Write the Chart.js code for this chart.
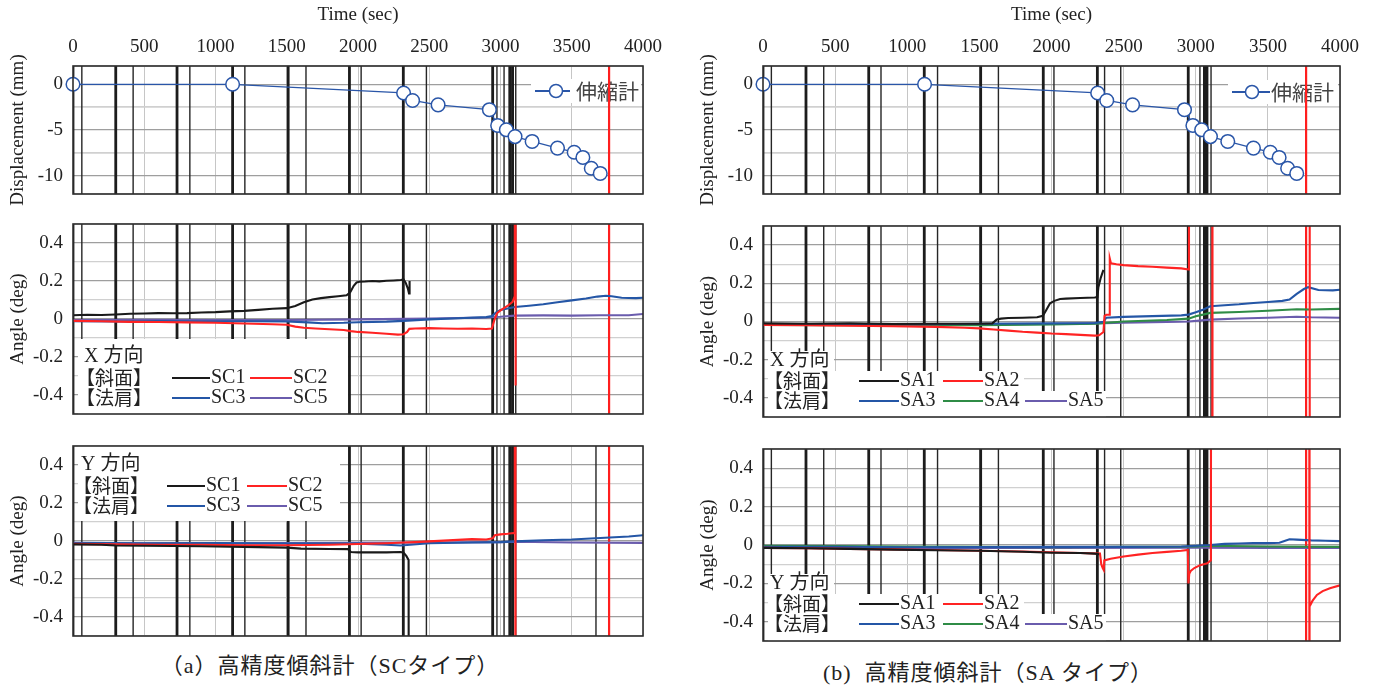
<!DOCTYPE html>
<html><head><meta charset="utf-8">
<script src="https://cdn.jsdelivr.net/npm/chart.js@4"></script>
<style>
html,body{margin:0;padding:0;background:#fff;}
body{width:1376px;height:686px;position:relative;overflow:hidden;}
canvas{position:absolute;}
.cap{position:absolute;font-family:"Liberation Serif","Noto Sans CJK JP",serif;font-size:22px;letter-spacing:1px;color:#222;white-space:nowrap;text-align:center;line-height:26px;}
</style></head><body>
<div class="cap" style="left:130px;top:653px;width:400px;">（a）高精度傾斜計（SCタイプ）</div>
<div class="cap" style="left:788px;top:660px;width:400px;">(b)&nbsp;&nbsp;高精度傾斜計（SA タイプ）</div>
<script>
// ---------------- DATA ----------------
const timeTicks = [0, 500, 1000, 1500, 2000, 2500, 3000, 3500, 4000];
const timeTickLabels = ['0', '500', '1000', '1500', '2000', '2500', '3000', '3500', '4000'];
const dispGrid = [-12, -10, -7.5, -5, -2.5, 0, 2];
const dispTickValues = [0, -5, -10];
const dispTickLabels = ['0', '-5', '-10'];
const angleGrid = [-0.5, -0.4, -0.3, -0.2, -0.1, 0, 0.1, 0.2, 0.3, 0.4, 0.5];
const angleTickValues = [0.4, 0.2, 0, -0.2, -0.4];
const angleTickLabels = ['0.4', '0.2', '0', '-0.2', '-0.4'];

// extensometer (伸縮計)
const tDisp = [0, 1120, 2320, 2383, 2562, 2922, 2980, 3041, 3102, 3222, 3400, 3517, 3578, 3637, 3700];
const dispExt = [0, 0, -0.95, -1.77, -2.25, -2.78, -4.5, -4.98, -5.72, -6.25, -6.98, -7.43, -8.0, -9.18, -9.75];

// event marker lines (sec)
const marksThickA = [0, 300, 730, 1120, 1510, 1940, 2318, 2945, 3065, 3085];
const marksThinA = [62, 422, 820, 1206, 1635, 2022, 2480, 2975, 3025, 3107];
const marksRedA = [3762];
const marksExtraAY = [3670];
const marksThickB = [0, 298, 733, 1118, 1509, 1943, 2318, 2948, 3060, 3078];
const marksThinB = [58, 421, 818, 1210, 1632, 2017, 2368, 2480, 3029, 3106];
const marksRedB = [3765];

// SC type, X direction
const tSC1x = [0, 100, 200, 300, 400, 500, 600, 700, 800, 900, 1000, 1100, 1200, 1300, 1400, 1500, 1560, 1620, 1680, 1740, 1800, 1860, 1920, 1945, 1970, 1990, 2010, 2050, 2100, 2150, 2200, 2250, 2300, 2320, 2335, 2350, 2358, 2362];
const sc1x = [0.020, 0.022, 0.021, 0.024, 0.028, 0.029, 0.031, 0.030, 0.031, 0.034, 0.036, 0.040, 0.043, 0.048, 0.054, 0.057, 0.068, 0.088, 0.103, 0.110, 0.115, 0.120, 0.125, 0.140, 0.175, 0.192, 0.196, 0.197, 0.200, 0.198, 0.201, 0.203, 0.205, 0.208, 0.190, 0.160, 0.135, 0.200];
const tSC2x = [0, 200, 400, 600, 800, 1000, 1200, 1400, 1500, 1560, 1620, 1700, 1800, 1900, 1950, 2000, 2100, 2200, 2280, 2320, 2345, 2360, 2400, 2500, 2600, 2700, 2800, 2900, 2940, 2955, 2975, 3000, 3030, 3060, 3085, 3100, 3104, 3106];
const sc2x = [-0.010, -0.012, -0.015, -0.016, -0.018, -0.020, -0.024, -0.028, -0.030, -0.040, -0.046, -0.050, -0.054, -0.058, -0.064, -0.068, -0.072, -0.078, -0.082, -0.080, -0.068, -0.052, -0.050, -0.048, -0.050, -0.051, -0.050, -0.053, -0.050, -0.010, 0.030, 0.045, 0.060, 0.075, 0.090, 0.120, 5, -0.35];
const tSC3x = [0, 300, 600, 900, 1200, 1500, 1650, 1750, 1900, 2000, 2200, 2320, 2500, 2700, 2900, 2940, 2970, 3000, 3100, 3200, 3300, 3400, 3500, 3600, 3680, 3740, 3780, 3850, 3950, 4000];
const sc3x = [-0.012, -0.013, -0.011, -0.014, -0.012, -0.013, -0.018, -0.022, -0.020, -0.017, -0.014, -0.010, -0.002, 0.004, 0.010, 0.015, 0.035, 0.048, 0.063, 0.070, 0.078, 0.088, 0.098, 0.108, 0.118, 0.122, 0.120, 0.112, 0.110, 0.112];
const tSC5x = [0, 500, 1000, 1500, 2000, 2500, 2900, 3000, 3100, 3300, 3500, 3700, 3900, 4000];
const sc5x = [-0.005, -0.004, -0.006, -0.005, -0.002, 0.002, 0.008, 0.012, 0.018, 0.019, 0.018, 0.020, 0.020, 0.026];

// SC type, Y direction
const tSC1y = [0, 200, 300, 500, 700, 900, 1100, 1300, 1500, 1600, 1800, 1930, 1950, 2000, 2100, 2200, 2300, 2320, 2340, 2355, 2362];
const sc1y = [-0.018, -0.020, -0.024, -0.025, -0.026, -0.028, -0.030, -0.032, -0.035, -0.040, -0.042, -0.043, -0.058, -0.060, -0.059, -0.060, -0.058, -0.062, -0.080, -0.100, -5];
const tSC2y = [0, 300, 600, 900, 1200, 1500, 1800, 2000, 2200, 2320, 2400, 2500, 2600, 2700, 2800, 2900, 2945, 2960, 3000, 3050, 3090, 3100, 3103, 3105];
const sc2y = [-0.015, -0.018, -0.020, -0.020, -0.022, -0.022, -0.020, -0.016, -0.012, -0.008, -0.006, -0.002, 0.002, 0.006, 0.010, 0.008, 0.014, 0.030, 0.035, 0.038, 0.042, 0.040, 5, -5];
const tSC3y = [0, 500, 1000, 1500, 2000, 2200, 2300, 2500, 2800, 3000, 3100, 3300, 3500, 3600, 3700, 3800, 3900, 4000];
const sc3y = [-0.010, -0.012, -0.011, -0.013, -0.014, -0.020, -0.024, -0.012, -0.008, -0.006, -0.002, 0.004, 0.008, 0.012, 0.016, 0.020, 0.024, 0.030];
const tSC5y = [0, 1000, 2000, 2500, 3000, 3100, 3500, 4000];
const sc5y = [-0.012, -0.012, -0.010, -0.008, -0.006, -0.004, -0.008, -0.010];

// SA type, X direction
const tSA1x = [0, 300, 600, 900, 1200, 1500, 1590, 1620, 1650, 1700, 1800, 1900, 1940, 1960, 1990, 2020, 2060, 2100, 2200, 2300, 2318, 2325, 2340, 2360];
const sa1x = [-0.010, -0.012, -0.010, -0.013, -0.012, -0.012, -0.010, 0.010, 0.015, 0.018, 0.020, 0.022, 0.030, 0.055, 0.095, 0.108, 0.118, 0.120, 0.123, 0.126, 0.128, 0.180, 0.225, 0.270];
const tSA2x = [0, 300, 600, 900, 1200, 1400, 1500, 1600, 1700, 1800, 1900, 2000, 2100, 2200, 2300, 2330, 2360, 2368, 2380, 2400, 2404, 2412, 2450, 2500, 2600, 2700, 2800, 2900, 2950, 2953, 3114, 3116, 3788, 3790];
const sa2x = [-0.018, -0.020, -0.022, -0.025, -0.028, -0.033, -0.036, -0.042, -0.048, -0.054, -0.058, -0.063, -0.066, -0.070, -0.074, -0.072, -0.055, 0.030, 0.035, 0.035, 0.330, 0.305, 0.300, 0.295, 0.290, 0.287, 0.282, 0.278, 0.272, 5, 5, -5, -5, 5];
const tSA3x = [0, 500, 1000, 1500, 2000, 2300, 2360, 2380, 2500, 2700, 2900, 2950, 3000, 3050, 3100, 3200, 3300, 3400, 3500, 3600, 3650, 3700, 3750, 3780, 3850, 3950, 4000];
const sa3x = [-0.015, -0.014, -0.016, -0.012, -0.010, -0.008, -0.002, 0.020, 0.024, 0.028, 0.032, 0.036, 0.048, 0.062, 0.080, 0.085, 0.090, 0.097, 0.102, 0.108, 0.115, 0.145, 0.170, 0.180, 0.165, 0.163, 0.166];
const tSA4x = [0, 500, 1000, 1500, 2000, 2300, 2500, 2800, 2950, 3000, 3050, 3100, 3300, 3500, 3700, 3800, 4000];
const sa4x = [-0.018, -0.020, -0.019, -0.020, -0.016, -0.012, 0.000, 0.008, 0.015, 0.028, 0.036, 0.045, 0.050, 0.056, 0.064, 0.063, 0.066];
const tSA5x = [0, 500, 1000, 1500, 2000, 2300, 2500, 2800, 2950, 3100, 3300, 3500, 3700, 3800, 4000];
const sa5x = [-0.015, -0.014, -0.016, -0.015, -0.013, -0.010, -0.006, -0.002, 0.000, 0.010, 0.016, 0.020, 0.025, 0.022, 0.020];

// SA type, Y direction
const tSA1y = [0, 300, 600, 900, 1200, 1500, 1800, 2000, 2200, 2300, 2330];
const sa1y = [-0.015, -0.017, -0.020, -0.024, -0.027, -0.030, -0.035, -0.040, -0.042, -0.045, -0.048];
const tSA2y = [0, 300, 600, 900, 1200, 1500, 1800, 2000, 2200, 2336, 2345, 2355, 2362, 2366, 2410, 2500, 2600, 2700, 2800, 2900, 2945, 2949, 2955, 2965, 2990, 3030, 3080, 3105, 3110, 3786, 3788, 3790, 3810, 3840, 3880, 3930, 4000];
const sa2y = [-0.015, -0.017, -0.020, -0.023, -0.026, -0.030, -0.034, -0.038, -0.042, -0.045, -0.100, -0.120, -0.130, -0.080, -0.072, -0.060, -0.050, -0.042, -0.036, -0.030, -0.026, -0.200, -0.150, -0.135, -0.120, -0.105, -0.095, -0.080, 5, 5, -5, -0.320, -0.290, -0.260, -0.240, -0.225, -0.210];
const tSA3y = [0, 500, 1000, 1500, 2000, 2500, 2900, 3000, 3100, 3200, 3300, 3400, 3500, 3580, 3620, 3650, 3700, 3800, 3900, 4000];
const sa3y = [-0.010, -0.010, -0.012, -0.011, -0.010, -0.010, -0.008, -0.004, 0.000, 0.006, 0.008, 0.010, 0.010, 0.012, 0.022, 0.030, 0.028, 0.024, 0.022, 0.020];
const tSA4y = [0, 500, 1000, 1500, 2000, 2500, 3000, 3100, 3500, 4000];
const sa4y = [-0.004, -0.006, -0.008, -0.010, -0.012, -0.010, -0.008, -0.004, -0.008, -0.010];
const tSA5y = [0, 1000, 2000, 3000, 3500, 4000];
const sa5y = [-0.015, -0.016, -0.015, -0.014, -0.015, -0.016];

// ---------------- STYLE / BUILD ----------------
const SERIF = '"Liberation Serif", "Noto Sans CJK JP", serif';
const CJK = '"Noto Sans CJK JP", "Liberation Serif", sans-serif';
const COL = { k: '#1a1a1a', r: '#ff2323', b: '#2456a6', p: '#6a5cad', g: '#2f8c46', ext: '#2a56a8' };

function xy(ts, vs) { return ts.map((t, i) => ({ x: t, y: vs[i] })); }
function markPts(ts) { const p = []; ts.forEach(t => { p.push({ x: t, y: -50 }); p.push({ x: t, y: 50 }); p.push({ x: t, y: null }); }); return p; }
function markSets(thick, thin, red, extra) {
  const s = [
    { label: 'thin', data: markPts(thin.concat(extra || [])), borderColor: '#262626', borderWidth: 1.4, order: 12 },
    { label: 'thick', data: markPts(thick), borderColor: '#1c1c1c', borderWidth: 2.8, order: 11 },
    { label: 'red', data: markPts(red), borderColor: '#ff1e1e', borderWidth: 2.2, order: 10 }
  ];
  s.forEach(d => { d.pointRadius = 0; d.spanGaps = false; });
  return s;
}
function series(label, ts, vs, color, order) {
  return { label, data: xy(ts, vs), borderColor: color, borderWidth: 2.1, pointRadius: 0, order: order || 1, spanGaps: false };
}

function findLabel(v, vals, labels) {
  for (let i = 0; i < vals.length; i++) if (Math.abs(vals[i] - v) < 1e-9) return labels[i];
  return '';
}

function xScale(top) {
  return {
    type: 'linear', min: 0, max: 4000, position: top ? 'top' : 'bottom',
    afterBuildTicks: s => { s.ticks = timeTicks.map(v => ({ value: v })); },
    ticks: { display: top, padding: 8, autoSkip: false, maxRotation: 0, color: '#222', font: { family: SERIF, size: 19 },
      callback: v => findLabel(v, timeTicks, timeTickLabels) },
    grid: { color: '#c6c6c6', lineWidth: 1, drawTicks: false },
    border: { display: false },
    title: { display: top, text: 'Time (sec)', color: '#222', font: { family: SERIF, size: 19 }, padding: { top: 4, bottom: 0 } },
    afterFit: s => { s.height = top ? 66 : 0; s.paddingLeft = 0; s.paddingRight = 0; s.paddingTop = 0; s.paddingBottom = 0; }
  };
}
function yScale(kind) {
  const disp = kind === 'disp';
  const grid = disp ? dispGrid : angleGrid;
  const tv = disp ? dispTickValues : angleTickValues;
  const tl = disp ? dispTickLabels : angleTickLabels;
  const isMajor = v => disp ? (Math.abs(v % 5) < 1e-9) : (Math.abs(Math.round(v * 10)) % 2 === 0);
  return {
    min: disp ? -12 : -0.5, max: disp ? 2 : 0.5,
    afterBuildTicks: s => { s.ticks = grid.map(v => ({ value: v })); },
    ticks: { padding: 10, autoSkip: false, color: '#222', font: { family: SERIF, size: 19 },
      callback: v => findLabel(v, tv, tl) },
    grid: { drawTicks: false,
      color: c => isMajor(c.tick.value) ? '#9e9e9e' : '#d0d0d0',
      lineWidth: c => isMajor(c.tick.value) ? 1.3 : (disp ? 1.8 : 1.2) },
    border: { display: false },
    title: { display: true, text: disp ? 'Displacement (mm)' : 'Angle (deg)', color: '#222',
      font: { family: SERIF, size: 19 }, padding: { top: 7, bottom: 0 } },
    afterFit: s => { s.width = 73; s.paddingLeft = 0; s.paddingRight = 0; s.paddingTop = 0; s.paddingBottom = 0; }
  };
}

const panelPlugin = {
  id: 'panelDeco',
  beforeDatasetsDraw(chart) { const L = chart.options.plugins.panelDeco.legend; if (L && L.under) drawLegend(chart, L); },
  afterDatasetsDraw(chart) { const L = chart.options.plugins.panelDeco.legend; if (L && !L.under) drawLegend(chart, L); },
  afterDraw(chart) {
    const a = chart.chartArea, ctx = chart.ctx;
    ctx.save(); ctx.strokeStyle = '#2e2e2e'; ctx.lineWidth = 1.6;
    ctx.strokeRect(a.left, a.top, a.right - a.left, a.bottom - a.top); ctx.restore();
  }
};

function drawLegend(chart, L) {
  const ctx = chart.ctx, ox = L.ox, oy = L.oy;
  ctx.save();
  ctx.fillStyle = '#fff';
  (L.boxes || []).forEach(b => ctx.fillRect(b[0] - ox, b[1] - oy, b[2], b[3]));
  ctx.textBaseline = 'middle'; ctx.textAlign = 'left';
  ctx.fillStyle = L.color || '#222';
  if (L.title) { ctx.font = '20px ' + SERIF; ctx.fillText(L.title.text, L.title.x - ox, L.title.y - oy); }
  L.rows.forEach(r => {
    const y = r.y - oy;
    if (r.label) { ctx.fillStyle = '#222'; ctx.font = '19px ' + CJK; ctx.fillText(r.label, r.x - ox, y); }
    r.items.forEach(it => {
      const ds = chart.data.datasets.find(d => d.label === it.name);
      ctx.strokeStyle = ds.borderColor; ctx.lineWidth = 1.8;
      ctx.beginPath(); ctx.moveTo(it.x1 - ox, y); ctx.lineTo(it.x2 - ox, y); ctx.stroke();
      if (it.marker) {
        ctx.beginPath(); ctx.arc(it.marker - ox, y, 6.5, 0, Math.PI * 2);
        ctx.fillStyle = '#fff'; ctx.fill(); ctx.lineWidth = 1.5; ctx.stroke();
      }
      ctx.fillStyle = it.color || '#222';
      ctx.font = it.font || ('20px ' + SERIF);
      ctx.fillText(it.name, it.tx - ox, y);
    });
  });
  ctx.restore();
}

function makePanel(p) {
  const c = document.createElement('canvas');
  c.width = p.w; c.height = p.h;
  c.style.left = p.left + 'px'; c.style.top = p.top + 'px';
  c.style.width = p.w + 'px'; c.style.height = p.h + 'px';
  document.body.appendChild(c);
  if (p.legend) { p.legend.ox = p.left; p.legend.oy = p.top; }
  new Chart(c, {
    type: 'line',
    data: { datasets: p.datasets },
    options: {
      responsive: false, maintainAspectRatio: false, animation: false, devicePixelRatio: 1, events: [],
      layout: { padding: p.pad },
      elements: { line: { tension: 0 } },
      plugins: { legend: { display: false }, tooltip: { enabled: false }, panelDeco: { legend: p.legend } },
      scales: { x: xScale(p.kind === 'disp'), y: yScale(p.kind) }
    },
    plugins: [panelPlugin]
  });
}

function extSet() {
  return { label: '伸縮計', data: xy(tDisp, dispExt), borderColor: COL.ext, borderWidth: 1.3,
    pointRadius: 6.8, pointBackgroundColor: '#fff', pointBorderColor: COL.ext, pointBorderWidth: 1.5,
    clip: false, order: 1 };
}

// Left column (SC)
makePanel({ left: 0, top: 0, w: 680, h: 216, kind: 'disp', pad: { left: 0, right: 37, top: 0, bottom: 22 },
  datasets: [extSet()].concat(markSets(marksThickA, marksThinA, marksRedA)),
  legend: { under: true, color: '#444', boxes: [[531, 79, 110, 24]],
    rows: [{ y: 91, items: [{ name: '伸縮計', x1: 535, x2: 570, marker: 556, tx: 576, color: '#444', font: '21px ' + CJK }] }] } });

makePanel({ left: 0, top: 220, w: 680, h: 198, kind: 'angle', pad: { left: 0, right: 37, top: 4, bottom: 4 },
  datasets: [series('SC5', tSC5x, sc5x, COL.p, 4), series('SC3', tSC3x, sc3x, COL.b, 3),
    series('SC2', tSC2x, sc2x, COL.r, 2), series('SC1', tSC1x, sc1x, COL.k, 1)]
    .concat(markSets(marksThickA, marksThinA, marksRedA)),
  legend: { boxes: [[78, 339, 270, 76]], title: { text: 'X 方向', x: 84, y: 357 },
    rows: [
      { label: '【斜面】', x: 76, y: 378, items: [{ name: 'SC1', x1: 172, x2: 210, tx: 211 }, { name: 'SC2', x1: 250, x2: 292, tx: 293 }] },
      { label: '【法肩】', x: 76, y: 398, items: [{ name: 'SC3', x1: 172, x2: 210, tx: 211 }, { name: 'SC5', x1: 250, x2: 292, tx: 293 }] }
    ] } });

makePanel({ left: 0, top: 442, w: 680, h: 198, kind: 'angle', pad: { left: 0, right: 37, top: 4, bottom: 4 },
  datasets: [series('SC5', tSC5y, sc5y, COL.p, 4), series('SC3', tSC3y, sc3y, COL.b, 3),
    series('SC2', tSC2y, sc2y, COL.r, 2), series('SC1', tSC1y, sc1y, COL.k, 1)]
    .concat(markSets(marksThickA, marksThinA, marksRedA, marksExtraAY)),
  legend: { boxes: [[78, 446, 262, 75]], title: { text: 'Y 方向', x: 81, y: 465 },
    rows: [
      { label: '【斜面】', x: 73, y: 486, items: [{ name: 'SC1', x1: 167, x2: 205, tx: 206 }, { name: 'SC2', x1: 247, x2: 287, tx: 288 }] },
      { label: '【法肩】', x: 73, y: 506, items: [{ name: 'SC3', x1: 167, x2: 205, tx: 206 }, { name: 'SC5', x1: 247, x2: 287, tx: 288 }] }
    ] } });

// Right column (SA)
makePanel({ left: 690, top: 0, w: 686, h: 216, kind: 'disp', pad: { left: 0, right: 36, top: 0, bottom: 22 },
  datasets: [extSet()].concat(markSets(marksThickB, marksThinB, marksRedB)),
  legend: { under: true, color: '#444', boxes: [[1228, 80, 110, 24]],
    rows: [{ y: 92, items: [{ name: '伸縮計', x1: 1232, x2: 1270, marker: 1252, tx: 1271, color: '#444', font: '21px ' + CJK }] }] } });

makePanel({ left: 690, top: 222, w: 686, h: 199, kind: 'angle', pad: { left: 0, right: 36, top: 4, bottom: 4 },
  datasets: [series('SA5', tSA5x, sa5x, COL.p, 5), series('SA4', tSA4x, sa4x, COL.g, 4), series('SA3', tSA3x, sa3x, COL.b, 3),
    series('SA2', tSA2x, sa2x, COL.r, 2), series('SA1', tSA1x, sa1x, COL.k, 1)]
    .concat(markSets(marksThickB, marksThinB, marksRedB)),
  legend: { boxes: [[768, 351, 66, 20], [768, 371, 256, 20], [768, 391, 338, 26]], title: { text: 'X 方向', x: 770, y: 361 },
    rows: [
      { label: '【斜面】', x: 764, y: 381, items: [{ name: 'SA1', x1: 859, x2: 899, tx: 900 }, { name: 'SA2', x1: 943, x2: 983, tx: 984 }] },
      { label: '【法肩】', x: 764, y: 401, items: [{ name: 'SA3', x1: 859, x2: 899, tx: 900 }, { name: 'SA4', x1: 943, x2: 983, tx: 984 }, { name: 'SA5', x1: 1025, x2: 1067, tx: 1068 }] }
    ] } });

makePanel({ left: 690, top: 445, w: 686, h: 200, kind: 'angle', pad: { left: 0, right: 36, top: 4, bottom: 4 },
  datasets: [series('SA5', tSA5y, sa5y, COL.p, 5), series('SA4', tSA4y, sa4y, COL.g, 4), series('SA3', tSA3y, sa3y, COL.b, 3),
    series('SA2', tSA2y, sa2y, COL.r, 2), series('SA1', tSA1y, sa1y, COL.k, 1)]
    .concat(markSets(marksThickB, marksThinB, marksRedB)),
  legend: { boxes: [[768, 574, 66, 20], [768, 594, 256, 20], [768, 614, 338, 27]], title: { text: 'Y 方向', x: 770, y: 584 },
    rows: [
      { label: '【斜面】', x: 764, y: 604, items: [{ name: 'SA1', x1: 859, x2: 899, tx: 900 }, { name: 'SA2', x1: 943, x2: 983, tx: 984 }] },
      { label: '【法肩】', x: 764, y: 624, items: [{ name: 'SA3', x1: 859, x2: 899, tx: 900 }, { name: 'SA4', x1: 943, x2: 983, tx: 984 }, { name: 'SA5', x1: 1025, x2: 1067, tx: 1068 }] }
    ] } });
</script>
</body></html>
